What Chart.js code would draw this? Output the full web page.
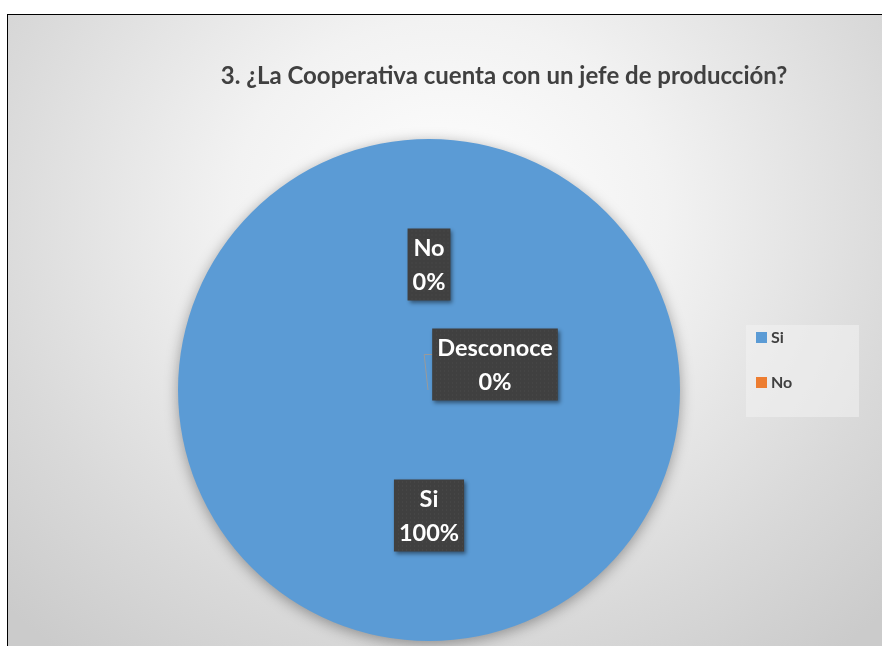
<!DOCTYPE html>
<html>
<head>
<meta charset="utf-8">
<script src="https://cdn.jsdelivr.net/npm/chart.js@4"></script>
<style>
    html, body { margin: 0; padding: 0; background: #ffffff; overflow: hidden; }
    #frame {
        position: absolute;
        left: 7px;
        top: 14px;
        width: 900px;
        height: 650px;
        border-left: 1px solid #000;
        border-top: 1px solid #000;
        background: radial-gradient(ellipse 620px 560px at 440px 200px, #ffffff 0%, #f2f2f2 35%, #d9d9d9 75%, #cbcbcb 100%);
    }
    #chart-box { position: absolute; left: 0; top: 0; width: 874px; height: 631px; }
</style>
</head>
<body>
<div id="frame">
    <div id="chart-box"><canvas id="pie-chart"></canvas></div>
</div>
<script>
// Survey answers
const categories = ['Si', 'No', 'Desconoce'];
const percentValues = [100, 0, 0];
const sliceColors = ['#5B9BD5', '#ED7D31', '#A5A5A5'];
const legendCategories = ['Si', 'No'];
const chartTitle = '3. ¿La Cooperativa cuenta con un jefe de producción?';

// Label nudges (px) so the overlapping 0% labels stay readable
const labelShift = [[0, 0], [0, 0], [66, 100]];

const FONT = 'Lato, "Liberation Sans", sans-serif';

// Soft shadow under the pie
const pieShadow = {
    id: 'pieShadow',
    beforeDatasetsDraw(chart) {
        const ctx = chart.ctx;
        ctx.save();
        ctx.shadowColor = 'rgba(0, 0, 0, 0.35)';
        ctx.shadowBlur = 14;
        ctx.shadowOffsetY = 3;
    },
    afterDatasetsDraw(chart) {
        chart.ctx.restore();
    }
};

// Title, legend and data label boxes
const decorations = {
    id: 'decorations',
    afterDraw(chart) {
        const ctx = chart.ctx;
        const meta = chart.getDatasetMeta(0);

        // title
        ctx.save();
        ctx.fillStyle = '#404040';
        ctx.font = 'bold 24px ' + FONT;
        ctx.textAlign = 'center';
        ctx.textBaseline = 'middle';
        ctx.fillText(chartTitle, 496, 61);
        ctx.restore();

        // legend
        ctx.save();
        ctx.fillStyle = 'rgba(242, 242, 242, 0.55)';
        ctx.fillRect(738, 310, 113, 92);
        ctx.font = 'bold 16px ' + FONT;
        ctx.textBaseline = 'middle';
        legendCategories.forEach((name, i) => {
            const idx = categories.indexOf(name);
            const y = 322 + i * 45;
            ctx.fillStyle = sliceColors[idx];
            ctx.fillRect(748, y - 5, 11, 11);
            ctx.fillStyle = '#404040';
            ctx.fillText(name, 763, y + 1);
        });
        ctx.restore();

        // data labels
        meta.data.forEach((arc, i) => {
            const pos = arc.tooltipPosition();
            const cx = pos.x + labelShift[i][0];
            const cy = pos.y + labelShift[i][1];
            const lines = [categories[i], percentValues[i] + '%'];
            ctx.save();
            ctx.font = 'bold 23.5px ' + FONT;
            const w = Math.max(...lines.map(t => ctx.measureText(t).width)) + 10;
            const h = 72;
            const x0 = cx - w / 2;
            const y0 = cy - h / 2;

            if (labelShift[i][0] !== 0 || labelShift[i][1] !== 0) {
                const p = arc.getProps(['x', 'y']);
                ctx.strokeStyle = '#9a9a9a';
                ctx.lineWidth = 1;
                ctx.beginPath();
                ctx.moveTo(x0, y0 + 26);
                ctx.lineTo(x0 - 8, y0 + 26);
                ctx.lineTo(p.x - 1, p.y);
                ctx.stroke();
            }

            ctx.shadowColor = 'rgba(0, 0, 0, 0.45)';
            ctx.shadowBlur = 4;
            ctx.shadowOffsetX = 2;
            ctx.shadowOffsetY = 2;
            ctx.fillStyle = '#404040';
            ctx.fillRect(x0, y0, w, h);
            ctx.shadowColor = 'transparent';

            // faint dot texture
            ctx.fillStyle = 'rgba(255, 255, 255, 0.07)';
            for (let yy = y0 + 2; yy < y0 + h; yy += 4) {
                for (let xx = x0 + 2 + ((yy - y0) % 8 ? 2 : 0); xx < x0 + w; xx += 4) {
                    ctx.fillRect(xx, yy, 1, 1);
                }
            }

            ctx.fillStyle = '#ffffff';
            ctx.textAlign = 'center';
            ctx.textBaseline = 'middle';
            ctx.fillText(lines[0], cx, cy - 16);
            ctx.fillText(lines[1], cx, cy + 18);
            ctx.restore();
        });
    }
};

const ctx = document.getElementById('pie-chart').getContext('2d');
const pieChart = new Chart(ctx, {
    type: 'pie',
    data: {
        labels: categories,
        datasets: [{
            data: percentValues,
            backgroundColor: sliceColors,
            borderWidth: 0
        }]
    },
    options: {
        responsive: true,
        maintainAspectRatio: false,
        animation: false,
        layout: {
            padding: { left: 170, top: 124, right: 202, bottom: 5 }
        },
        plugins: {
            legend: { display: false },
            title: { display: false },
            tooltip: { enabled: false }
        }
    },
    plugins: [pieShadow, decorations]
});
</script>
</body>
</html>
